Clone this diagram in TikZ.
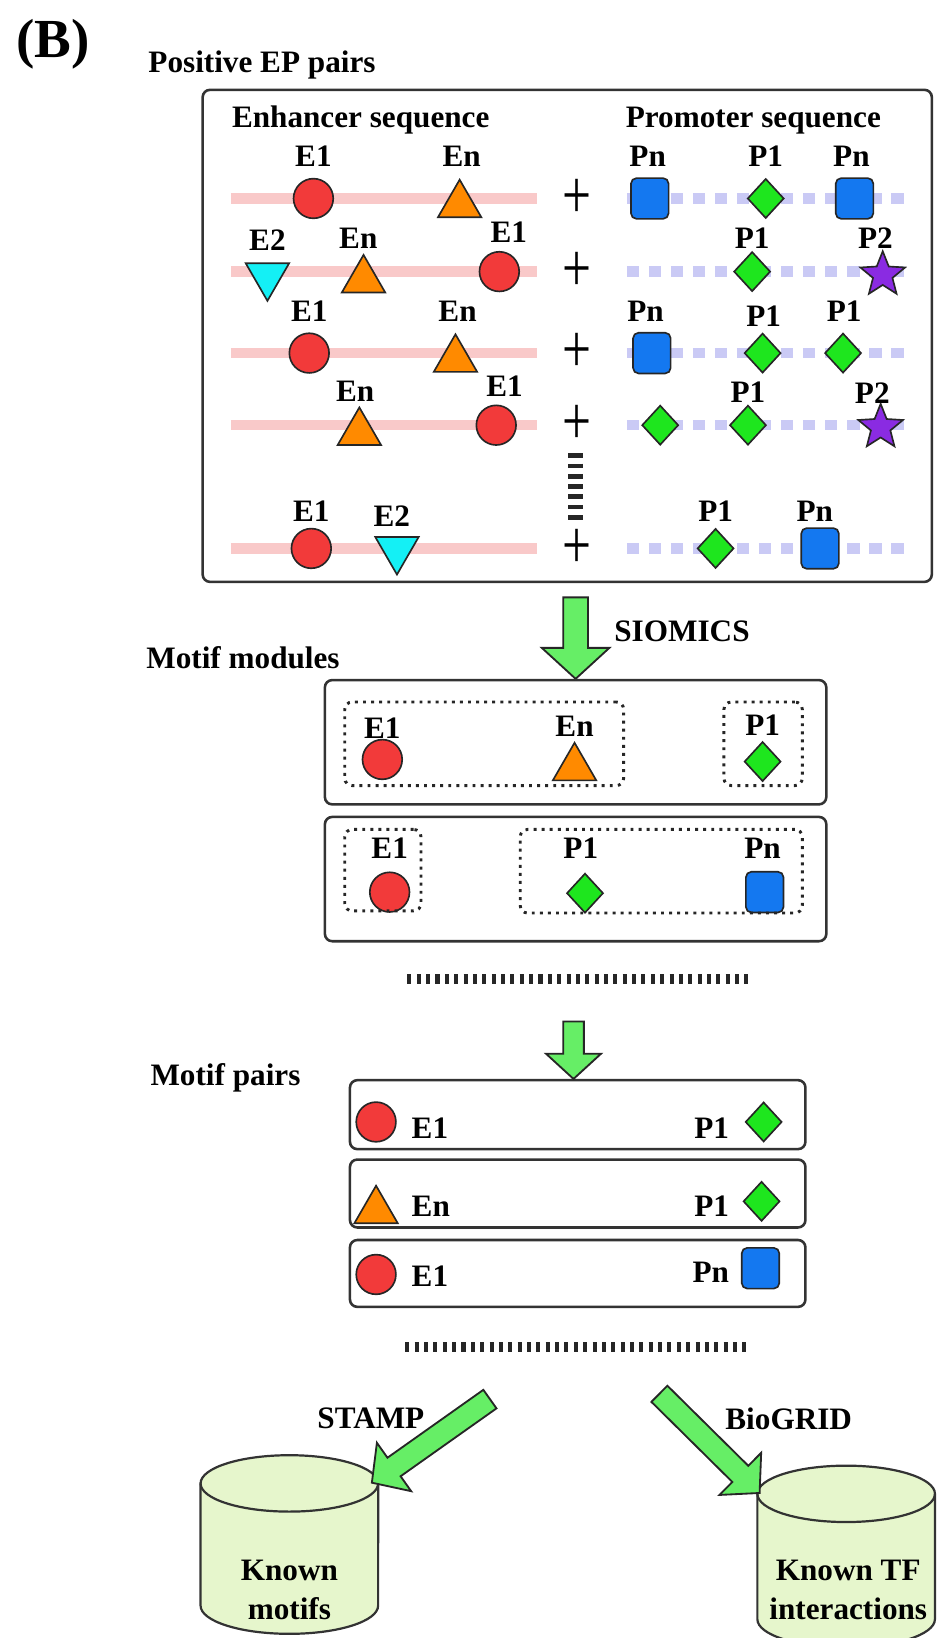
\documentclass[tikz,border=0pt]{standalone}
\usepackage{fontspec}
\setmainfont{Liberation Serif}
\usetikzlibrary{positioning,shapes.geometric,shapes.arrows,fit}
\definecolor{motred}{HTML}{F23A3A}
\definecolor{motorange}{HTML}{FF8A00}
\definecolor{motcyan}{HTML}{14F0F5}
\definecolor{motblue}{HTML}{1478F0}
\definecolor{motgreen}{HTML}{1EE61E}
\definecolor{motpurple}{HTML}{8A2BE2}
\definecolor{enhline}{HTML}{F9C9C9}
\definecolor{proline}{HTML}{CACAF5}
\definecolor{arrgreen}{HTML}{66EE66}
\definecolor{dbfill}{HTML}{E6F6CC}
\tikzset{
  txt/.style={font=\fontsize{17}{21}\selectfont\bfseries,inner sep=1pt},
  mot/.style={draw=black!85,line width=0.9pt,inner sep=0pt},
  redc/.style={mot,circle,fill=motred,minimum size=0.76cm},
  ortri/.style={mot,regular polygon,regular polygon sides=3,fill=motorange,minimum size=0.96cm},
  cytri/.style={ortri,fill=motcyan,shape border rotate=180},
  grdia/.style={mot,diamond,fill=motgreen,minimum width=0.7cm,minimum height=0.76cm},
  blsq/.style={mot,rectangle,rounded corners=3pt,fill=motblue,minimum width=0.72cm,minimum height=0.78cm},
  pustar/.style={mot,star,star points=5,star point ratio=2.3,fill=motpurple,minimum size=0.9cm},
}
\begin{document}
\begin{tikzpicture}[x=0.02cm,y=-0.02cm,
   box/.style={draw=black!80,line width=1.4pt,rounded corners=4pt,inner sep=0pt},
   grp/.style={draw=black!85,line width=1.6pt,dash pattern=on 1.6pt off 2.8pt,rounded corners=4pt,inner sep=0pt},
   enh/.style={enhline,line width=5.7pt},
   prm/.style={proline,line width=5.7pt,dash pattern=on 6.8pt off 5.2pt},
   plus/.style={font=\fontsize{28}{28}\selectfont,inner sep=0pt,yscale=1.35},
   dashrow/.style={black!85,line width=5.5pt,dash pattern=on 2.2pt off 2.9pt},
   dashcol/.style={black!85,line width=7.8pt,dash pattern=on 2.5pt off 3.1pt},
   fatarrow/.style={single arrow,draw=black!85,fill=arrgreen,line width=1pt,inner xsep=0pt,
     single arrow tip angle=95,single arrow head indent=0pt},
   dbline/.style={draw=black!80,line width=1.2pt},
   dbend/.style={x radius=1.7cm,y radius=0.54cm}]
  \useasboundingbox (0,0) rectangle (899,1568);

  % headings
  \node[font=\fontsize{30}{32}\selectfont\bfseries,anchor=west,inner sep=0pt] (panel) at (15,42) {(B)};
  \node[txt,anchor=west] (hpos) at (140,62) {Positive EP pairs};
  \node[txt,anchor=west] (hmod) at (138,630) {Motif modules};
  \node[txt,anchor=west] (hpair) at (142,1032) {Motif pairs};

  % positive EP pairs
  \node[box,fit={(194,86) (892,557)}] (epbox) {};
  \node[txt,anchor=west] (hen) at (220,115) {Enhancer sequence};
  \node[txt,anchor=west] (hpr) at (597,115) {Promoter sequence};
  \foreach \y in {190,260,338,407,525} {
    \draw[enh] (221,\y) -- (514,\y);
    \draw[prm] (600,\y) -- (868,\y);
    \node[plus] (plus\y) at (552,\y) {+};
  }
  \draw[dashcol] (551,434) -- (551,498);

  % motifs
  \foreach \x/\y [count=\i] in {300/190,478/260,296/338,475/407,298/525,366/727,373/854,360/1074,360/1220}
    \node[redc] (ec\i) at (\x,\y) {};
  \foreach \x/\y [count=\i] in {440/196,348/268,436/344,344/414,550/735,360/1159}
    \node[ortri] (et\i) at (\x,\y) {};
  \foreach \x/\y [count=\i] in {256/264,380/526}
    \node[cytri] (ev\i) at (\x,\y) {};
  \foreach \x/\y [count=\i] in {733/190,720/260,730/338,807/338,632/407,716/407,685/525,730/729,560/855,731/1074,729/1150}
    \node[grdia] (pd\i) at (\x,\y) {};
  \foreach \x/\y [count=\i] in {622/190,818/190,624/338,785/525,732/854,728/1214}
    \node[blsq] (ps\i) at (\x,\y) {};
  \foreach \x/\y [count=\i] in {845/263,843/409}
    \node[pustar] (pst\i) at (\x,\y) {};

  % motif names
  \foreach \x/\y/\t [count=\i] in {300/150/E1,442/150/En,620/150/Pn,733/150/P1,815/150/Pn,
      256/230/E2,343/228/En,487/222/E1,720/228/P1,838/228/P2,
      296/298/E1,438/298/En,618/298/Pn,731/303/P1,808/298/P1,
      340/375/En,483/370/E1,716/375/P1,835/376/P2,
      298/489/E1,375/494/E2,685/489/P1,780/489/Pn,
      366/697/E1,550/695/En,730/694/P1,373/812/E1,556/812/P1,730/812/Pn}
    \node[txt] (lab\i) at (\x,\y) {\t};

  % motif modules
  \node[fatarrow,rotate=-90,anchor=tip,inner ysep=0.22cm,single arrow head extend=0.41cm,
    minimum height=1.56cm] (siomics) at (551,651) {};
  \node[txt,anchor=west] (lsiomics) at (586,604) {SIOMICS};
  \node[box,fit={(311,651) (791,770)}] (modA) {};
  \node[box,fit={(311,782) (791,901)}] (modB) {};
  \node[grp,fit={(330,672) (597,752)}] (grpA1) {};
  \node[grp,fit={(693,672) (768,752)}] (grpA2) {};
  \node[grp,fit={(330,794) (403,872)}] (grpB1) {};
  \node[grp,fit={(498,794) (768,874)}] (grpB2) {};
  \draw[dashrow] (390,937) -- (717,937);

  % motif pairs
  \node[box,fit={(335,1034) (771,1100)}] (pairA) {};
  \node[box,fit={(335,1110) (771,1175)}] (pairB) {};
  \node[box,fit={(335,1187) (771,1251)}] (pairC) {};
  \node[fatarrow,rotate=-90,anchor=tip,inner ysep=0.18cm,single arrow head extend=0.33cm,
    minimum height=1.1cm] (pairarr) at (549,1034) {};
  \node[txt,anchor=west] (pa1) at (392,1080) {E1};
  \node[txt,anchor=east] (pa2) at (700,1080) {P1};
  \node[txt,anchor=west] (pb1) at (392,1155) {En};
  \node[txt,anchor=east] (pb2) at (700,1155) {P1};
  \node[txt,anchor=west] (pc1) at (392,1222) {E1};
  \node[txt,anchor=east] (pc2) at (700,1218) {Pn};
  \draw[dashrow] (388,1289) -- (715,1289);

  % databases
  \draw[dbline,fill=dbfill] (192,1420) -- (192,1537) arc[dbend,start angle=180,end angle=360]
    -- (362,1420) arc[dbend,start angle=0,end angle=180] -- cycle;
  \draw[dbline] (192,1420) arc[dbend,start angle=180,end angle=360];
  \draw[dbline,fill=dbfill] (725,1430) -- (725,1550) arc[dbend,start angle=180,end angle=360]
    -- (895,1430) arc[dbend,start angle=0,end angle=180] -- cycle;
  \draw[dbline] (725,1430) arc[dbend,start angle=180,end angle=360];
  \node[fit={(192,1393) (362,1564)},inner sep=0pt] (known) {};
  \node[fit={(725,1403) (895,1577)},inner sep=0pt] (tfdb) {};
  \node[txt,align=center] (lknown) at (277,1522) {Known\\motifs};
  \node[txt,align=center] (ltfdb) at (812,1522) {Known TF\\interactions};
  \node[fatarrow,rotate=215.3,anchor=tip,inner ysep=0.2cm,single arrow head extend=0.35cm,
    minimum height=2.77cm] (stamp) at (355,1420) {};
  \node[fatarrow,rotate=-44.7,anchor=tip,inner ysep=0.2cm,single arrow head extend=0.35cm,
    minimum height=2.7cm] (biogrid) at (728,1430) {};
  \node[txt] (lstamp) at (355,1358) {STAMP};
  \node[txt] (lbiogrid) at (755,1358) {BioGRID};
\end{tikzpicture}
\end{document}
